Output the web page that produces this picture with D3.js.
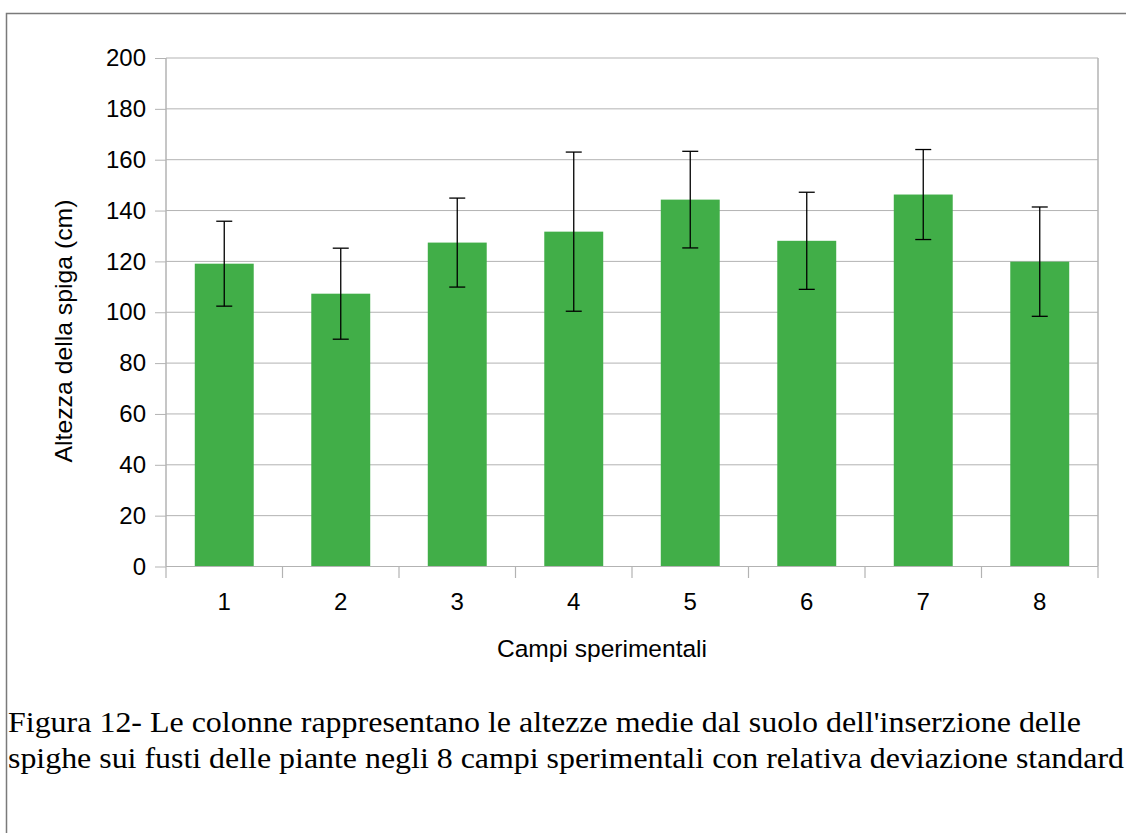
<!DOCTYPE html>
<html>
<head>
<meta charset="utf-8">
<script src="https://cdn.jsdelivr.net/npm/d3@7/dist/d3.min.js"></script>
<style>
  html, body { margin: 0; padding: 0; background: #fff; }
  svg { display: block; }
</style>
</head>
<body>
<svg id="chart" width="1126" height="833"></svg>
<script>
const categories = ["1", "2", "3", "4", "5", "6", "7", "8"];
const means = [119.1, 107.3, 127.4, 131.7, 144.3, 128.1, 146.3, 119.9];
const stdDevs = [16.7, 17.9, 17.5, 31.3, 19.0, 19.1, 17.7, 21.5];
const yTicks = [0, 20, 40, 60, 80, 100, 120, 140, 160, 180, 200];
const yTitle = "Altezza della spiga (cm)";
const xTitle = "Campi sperimentali";
const captionLines = [
  "Figura 12- Le colonne rappresentano le altezze medie dal suolo dell'inserzione delle",
  "spighe sui fusti delle piante negli 8 campi sperimentali con relativa deviazione standard"
];

const svg = d3.select("#chart");
const sans = "'Liberation Sans', Arial, sans-serif";
const serif = "'Liberation Serif'";

const plot = { left: 166, right: 1098, top: 58, bottom: 566.5 };

// outer frame
svg.append("rect")
  .attr("x", 6.5).attr("y", 13.5)
  .attr("width", 1200).attr("height", 900)
  .attr("fill", "none").attr("stroke", "#7a7a7a").attr("stroke-width", 1.5);

const x = d3.scaleBand().domain(categories).range([plot.left, plot.right]).paddingInner(0).paddingOuter(0);
const y = d3.scaleLinear().domain([0, 200]).range([plot.bottom, plot.top]);

// y ticks
const yAxis = d3.axisLeft(y).tickValues(yTicks).tickSize(11).tickPadding(9).tickFormat(d3.format("d"));
const gy = svg.append("g").attr("transform", `translate(${plot.left},0)`).call(yAxis);
gy.select(".domain").remove();
gy.selectAll(".tick line").attr("stroke", "#b3b3b3").attr("stroke-width", 1);
gy.selectAll(".tick text").attr("font-family", sans).attr("font-size", 24).attr("fill", "#000");

// gridlines
svg.append("g").selectAll("line").data(yTicks).join("line")
  .attr("x1", plot.left).attr("x2", plot.right)
  .attr("y1", d => y(d)).attr("y2", d => y(d))
  .attr("stroke", "#b3b3b3").attr("stroke-width", 1);

// vertical plot borders
svg.append("line").attr("x1", plot.left).attr("x2", plot.left).attr("y1", plot.top).attr("y2", plot.bottom)
  .attr("stroke", "#b3b3b3").attr("stroke-width", 1.5);
svg.append("line").attr("x1", plot.right).attr("x2", plot.right).attr("y1", plot.top).attr("y2", plot.bottom)
  .attr("stroke", "#b3b3b3").attr("stroke-width", 1.5);

// bars
const barW = x.bandwidth() * 0.506;
svg.append("g").selectAll("rect").data(means).join("rect")
  .attr("x", (d, i) => x(categories[i]) + (x.bandwidth() - barW) / 2)
  .attr("width", barW)
  .attr("y", d => y(d))
  .attr("height", d => y(0) - y(d))
  .attr("fill", "#41ae48");

// x axis ticks at band edges
const edges = categories.map(c => x(c)).concat([plot.right]);
svg.append("g").selectAll("line").data(edges).join("line")
  .attr("x1", d => d).attr("x2", d => d)
  .attr("y1", plot.bottom).attr("y2", plot.bottom + 11.5)
  .attr("stroke", "#b3b3b3").attr("stroke-width", 1.2);
svg.append("line").attr("x1", plot.left).attr("x2", plot.right).attr("y1", y(0)).attr("y2", y(0))
  .attr("stroke", "#b3b3b3").attr("stroke-width", 1.2);

svg.append("g").selectAll("text").data(categories).join("text")
  .attr("x", d => x(d) + x.bandwidth() / 2)
  .attr("y", 610)
  .attr("text-anchor", "middle")
  .attr("font-family", sans).attr("font-size", 24).attr("fill", "#000")
  .text(d => d);

// error bars
const capW = 16;
const eg = svg.append("g").attr("stroke", "#000").attr("stroke-width", 1.3);
means.forEach((m, i) => {
  const cx = x(categories[i]) + x.bandwidth() / 2;
  const hi = y(m + stdDevs[i]), lo = y(m - stdDevs[i]);
  eg.append("line").attr("x1", cx).attr("x2", cx).attr("y1", hi).attr("y2", lo);
  eg.append("line").attr("x1", cx - capW / 2).attr("x2", cx + capW / 2).attr("y1", hi).attr("y2", hi);
  eg.append("line").attr("x1", cx - capW / 2).attr("x2", cx + capW / 2).attr("y1", lo).attr("y2", lo);
});

// axis titles
svg.append("text")
  .attr("x", 602).attr("y", 657)
  .attr("text-anchor", "middle")
  .attr("font-family", sans).attr("font-size", 24.5).attr("fill", "#000")
  .attr("textLength", 210).attr("lengthAdjust", "spacingAndGlyphs")
  .text(xTitle);

svg.append("text")
  .attr("transform", "translate(72,331) rotate(-90)")
  .attr("text-anchor", "middle")
  .attr("font-family", sans).attr("font-size", 24.5).attr("fill", "#000")
  .attr("textLength", 263).attr("lengthAdjust", "spacingAndGlyphs")
  .text(yTitle);

// caption
const capY = [732, 768];
const capLen = [1073, 1116];
svg.append("g").selectAll("text").data(captionLines).join("text")
  .attr("x", 8).attr("y", (d, i) => capY[i])
  .attr("font-family", serif).attr("font-size", 30).attr("fill", "#000")
  .attr("textLength", (d, i) => capLen[i]).attr("lengthAdjust", "spacingAndGlyphs")
  .text(d => d);
</script>
</body>
</html>
